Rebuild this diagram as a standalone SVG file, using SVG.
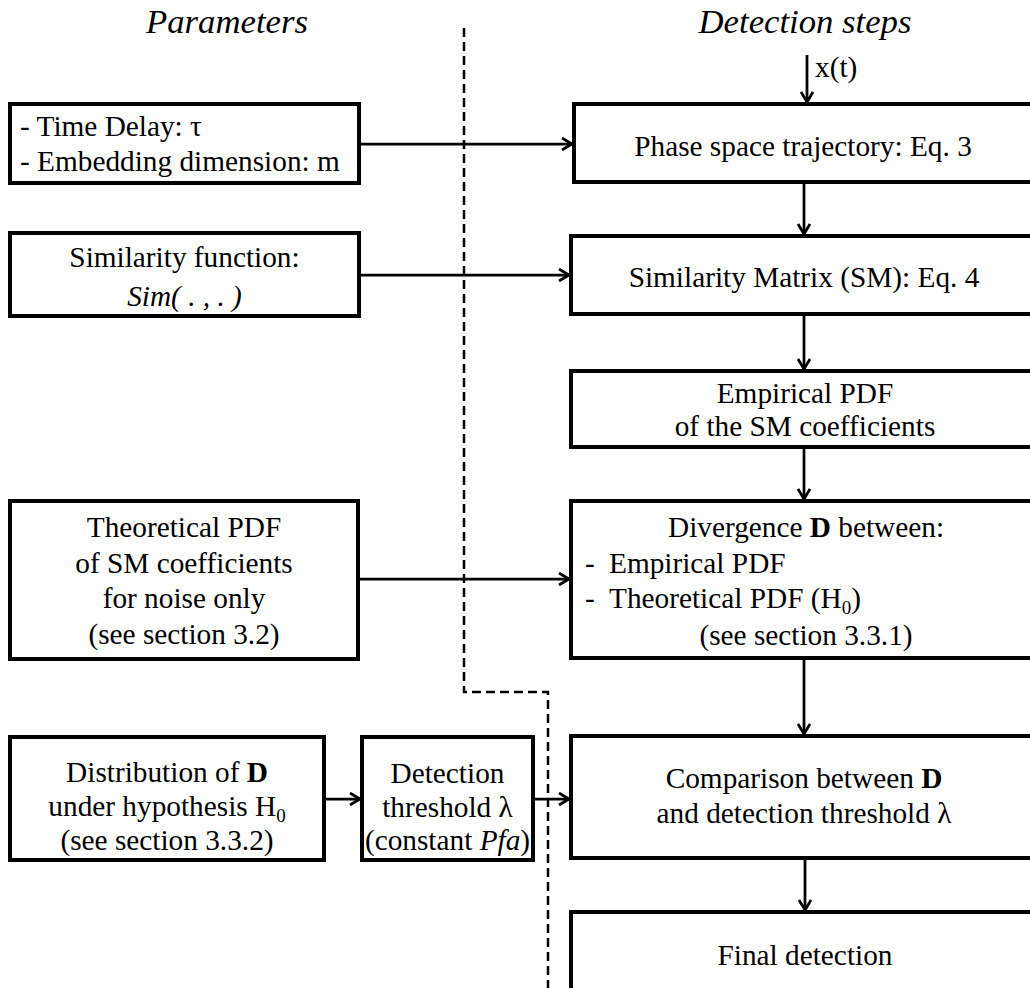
<svg xmlns="http://www.w3.org/2000/svg" width="1030" height="988" viewBox="0 0 1030 988">
<style>
text{font-family:'Liberation Serif',serif;font-size:29.3px;fill:#000}
.t{font-size:34.7px;font-style:italic;text-anchor:middle}
.c{text-anchor:middle}
.box{fill:#fff;stroke:#000;stroke-width:4}
.con{fill:none;stroke:#000;stroke-width:2.75}
.dash{fill:none;stroke:#000;stroke-width:2.5;stroke-dasharray:9 5}
.b{font-weight:bold}
.i{font-style:italic}
</style>
<defs>
<marker id="ah" markerUnits="userSpaceOnUse" markerWidth="14" markerHeight="14" refX="11" refY="7" orient="auto">
<path d="M1,1 L11,7 L1,13" fill="none" stroke="#000" stroke-width="2.75"/>
</marker>
</defs>
<rect width="1030" height="988" fill="#fff"/>
<g font-family="Liberation Serif, serif">
<text class="t" x="227" y="33">Parameters</text>
<text class="t" x="805" y="33">Detection steps</text>
<g id="divider">
<path class="dash" d="M464,28 V692 H548 V988"/>
</g>
<g id="connectors">
<line class="con" x1="807" y1="55" x2="807" y2="102" marker-end="url(#ah)"/>
<line class="con" x1="359" y1="144" x2="572" y2="144" marker-end="url(#ah)"/>
<line class="con" x1="804" y1="182" x2="804" y2="234" marker-end="url(#ah)"/>
<line class="con" x1="359" y1="275" x2="569" y2="275" marker-end="url(#ah)"/>
<line class="con" x1="804" y1="314" x2="804" y2="369" marker-end="url(#ah)"/>
<line class="con" x1="804" y1="447" x2="804" y2="499" marker-end="url(#ah)"/>
<line class="con" x1="358" y1="579" x2="569" y2="579" marker-end="url(#ah)"/>
<line class="con" x1="804" y1="658" x2="804" y2="734" marker-end="url(#ah)"/>
<line class="con" x1="324" y1="799" x2="360" y2="799" marker-end="url(#ah)"/>
<line class="con" x1="533" y1="799" x2="569" y2="799" marker-end="url(#ah)"/>
<line class="con" x1="805" y1="858" x2="805" y2="910" marker-end="url(#ah)"/>
</g>
<text x="815" y="77">x(t)</text>
<g id="n-delay">
<rect class="box" x="10" y="104" width="349" height="79"/>
<text x="20" y="136">- Time Delay: τ</text>
<text x="20" y="171">- Embedding dimension: m</text>
</g>
<g id="n-simfunc">
<rect class="box" x="10" y="233" width="349" height="83"/>
<text class="c" x="184.5" y="267">Similarity function:</text>
<text class="c i" x="184.5" y="306">Sim( . , . )</text>
</g>
<g id="n-theo">
<rect class="box" x="10" y="501" width="348" height="158"/>
<text class="c" x="184" y="537">Theoretical PDF</text>
<text class="c" x="184" y="573">of SM coefficients</text>
<text class="c" x="184" y="608">for noise only</text>
<text class="c" x="184" y="644">(see section 3.2)</text>
</g>
<g id="n-dist">
<rect class="box" x="10" y="737" width="314" height="123"/>
<text class="c" x="167" y="782">Distribution of <tspan class="b">D</tspan></text>
<text class="c" x="167" y="816">under hypothesis H<tspan font-size="19" dy="6">0</tspan></text>
<text class="c" x="167" y="850">(see section 3.3.2)</text>
</g>
<g id="n-thresh">
<rect class="box" x="362" y="737" width="171" height="123"/>
<text class="c" x="447.5" y="783">Detection</text>
<text class="c" x="447.5" y="817">threshold λ</text>
<text class="c" x="447.5" y="850">(constant <tspan class="i">Pfa</tspan>)</text>
</g>
<g id="n-phase">
<rect class="box" x="574" y="104" width="470" height="78"/>
<text class="c" x="803" y="156">Phase space trajectory: Eq. 3</text>
</g>
<g id="n-sm">
<rect class="box" x="571" y="236" width="470" height="78"/>
<text class="c" x="804" y="287">Similarity Matrix (SM): Eq. 4</text>
</g>
<g id="n-emp">
<rect class="box" x="571" y="371" width="470" height="76"/>
<text class="c" x="805" y="403">Empirical PDF</text>
<text class="c" x="805" y="436">of the SM coefficients</text>
</g>
<g id="n-div">
<rect class="box" x="571" y="501" width="470" height="157"/>
<text class="c" x="806" y="537">Divergence <tspan class="b">D</tspan> between:</text>
<text x="585" y="573">-</text><text x="609" y="573">Empirical PDF</text>
<text x="585" y="608">-</text><text x="609" y="608">Theoretical PDF (H<tspan font-size="19" dy="6">0</tspan><tspan dy="-6">)</tspan></text>
<text class="c" x="806" y="645">(see section 3.3.1)</text>
</g>
<g id="n-comp">
<rect class="box" x="571" y="736" width="470" height="122"/>
<text class="c" x="804" y="788">Comparison between <tspan class="b">D</tspan></text>
<text class="c" x="804" y="823">and detection threshold λ</text>
</g>
<g id="n-final">
<rect class="box" x="571" y="912" width="470" height="100"/>
<text class="c" x="805" y="965">Final detection</text>
</g>
</g>
</svg>
